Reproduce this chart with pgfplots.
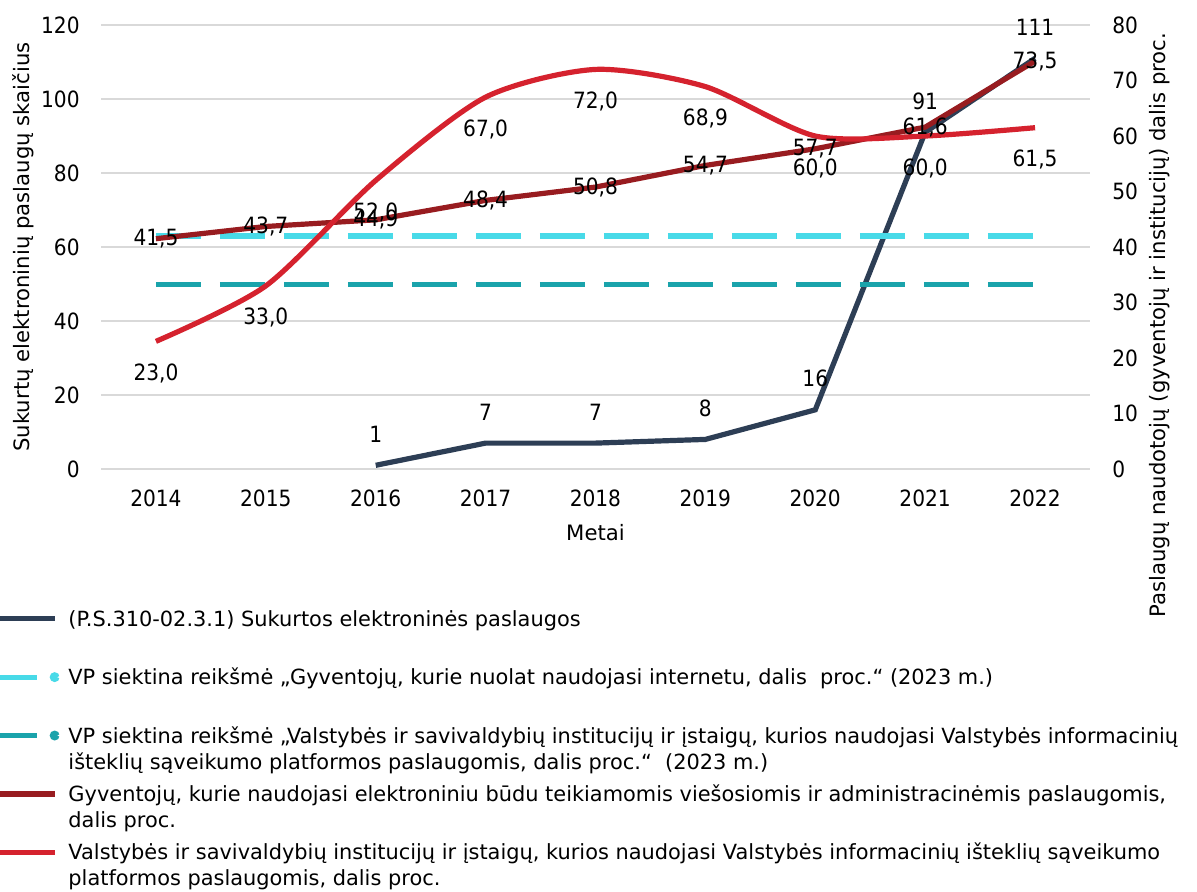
\documentclass[border=0pt]{standalone}
\usepackage{pgfplots}
\pgfplotsset{compat=1.18}
\usepackage{fontspec}
\setmainfont{DejaVu Sans Condensed}
\newfontfamily\widefont{DejaVu Sans}

\definecolor{navyline}{RGB}{45,62,85}
\definecolor{cyanline}{RGB}{72,218,232}
\definecolor{tealline}{RGB}{26,163,171}
\definecolor{darkredline}{RGB}{152,28,32}
\definecolor{redline}{RGB}{213,34,46}
\definecolor{gridgray}{RGB}{217,217,217}

\newcommand{\tickfont}{\fontsize{11.2}{13}\selectfont}
\newcommand{\labfont}{\widefont\fontsize{10.6}{13}\selectfont}
\newcommand{\legfont}{\widefont\fontsize{10.45}{13}\selectfont}
\newcommand{\legtext}[1]{\parbox[t]{600pt}{\raggedright\strut #1\strut}}

\pgfplotsset{
  base/.style={
    scale only axis, width=494.5pt, height=222pt,
    xmin=2013.5, xmax=2022.5,
    xtick={2014,...,2022},
    xticklabels={2014,2015,2016,2017,2018,2019,2020,2021,2022},
    axis line style={draw=none}, tick style={draw=none}, major tick length=0pt,
    tick label style={font=\tickfont},
    label style={font=\labfont},
    /pgf/number format/assume math mode=true,
    clip=false,
  },
  dashimg/.style={legend image code/.code={
    \draw[##1] (0pt,0pt) -- (18.5pt,0pt);
    \fill[##1] (27.5pt,0pt) circle (1.1pt);}},
}

\begin{document}
\begin{tikzpicture}
% left axis: number of services
\begin{axis}[base,
  ymin=0, ymax=120, ytick={0,20,...,120},
  ymajorgrids, grid style={gridgray, line width=0.8pt},
  xticklabel style={anchor=center, yshift=-14.5pt},
  yticklabel style={anchor=east, inner sep=0pt, xshift=-10.5pt},
  xlabel={Metai},
  xlabel style={at={([yshift=-32pt]axis description cs:0.5,0)}, anchor=center},
  ylabel={Sukurtų elektroninių paslaugų skaičius},
  ylabel style={at={([xshift=-39pt]axis description cs:0,0.5)}, anchor=center},
]
\addplot[color=navyline, line width=2.6pt, nodes near coords, point meta=explicit symbolic,
  nodes near coords style={anchor=center, yshift=15.5pt, font=\tickfont, text=black}]
  coordinates {(2016,1)[1] (2017,7)[7] (2018,7)[7] (2019,8)[8] (2020,16)[16] (2021,91)[91] (2022,111)[111]};
\end{axis}
% right axis: shares in percent
\begin{axis}[base,
  hide x axis, axis y line*=right,
  ymin=0, ymax=80, ytick={0,10,...,80},
  yticklabel style={anchor=west, inner sep=0pt, xshift=11pt},
  ylabel={Paslaugų naudotojų (gyventojų ir institucijų) dalis proc.},
  ylabel style={at={([xshift=35pt]axis description cs:1,0.324)}, anchor=center},
  legend cell align=left,
  legend image code/.code={\draw[#1] (0pt,0pt) -- (27.5pt,0pt);},
  legend style={draw=none, fill=none, inner sep=0pt, outer sep=0pt,
    at={(axis description cs:-0.1051,-0.3133)}, anchor=north west,
    font=\legfont, row sep=18.6pt, column sep=4.5pt, nodes={inner sep=0pt}},
]
\addlegendimage{color=navyline, line width=2.6pt}
\addlegendentry{\legtext{(P.S.310-02.3.1) Sukurtos elektroninės paslaugos\\\strut}}
\addplot[color=cyanline, line width=2.6pt, dash pattern=on 22.5pt off 9.5pt, dashimg]
  coordinates {(2014,42) (2022,42)};
\addlegendentry{\legtext{VP siektina reikšmė „Gyventojų, kurie nuolat naudojasi internetu, dalis \ proc.“ (2023 m.)\\\strut}}
\addplot[color=tealline, line width=2.6pt, dash pattern=on 22.5pt off 9.5pt, dashimg]
  coordinates {(2014,33.3) (2022,33.3)};
\addlegendentry{\legtext{VP siektina reikšmė „Valstybės ir savivaldybių institucijų ir įstaigų, kurios naudojasi Valstybės informacinių\\išteklių sąveikumo platformos paslaugomis, dalis proc.“ \ (2023 m.)}}
\addplot[color=darkredline, line width=2.6pt, nodes near coords, point meta=explicit symbolic,
  nodes near coords style={anchor=center, font=\tickfont, text=black}]
  coordinates {(2014,41.5)[41,5] (2015,43.7)[43,7] (2016,44.9)[44,9] (2017,48.4)[48,4]
    (2018,50.8)[50,8] (2019,54.7)[54,7] (2020,57.7)[57,7] (2021,61.6)[61,6] (2022,73.5)[73,5]};
\addlegendentry{\legtext{Gyventojų, kurie naudojasi elektroniniu būdu teikiamomis viešosiomis ir administracinėmis paslaugomis,\\dalis proc.}}
\addplot[color=redline, line width=2.6pt, smooth, tension=0.45, nodes near coords, point meta=explicit symbolic,
  nodes near coords style={anchor=center, yshift=-16pt, font=\tickfont, text=black}]
  coordinates {(2014,23.0)[23,0] (2015,33.0)[33,0] (2016,52.0)[52,0] (2017,67.0)[67,0]
    (2018,72.0)[72,0] (2019,68.9)[68,9] (2020,60.0)[60,0] (2021,60.0)[60,0] (2022,61.5)[61,5]};
\addlegendentry{\legtext{Valstybės ir savivaldybių institucijų ir įstaigų, kurios naudojasi Valstybės informacinių išteklių sąveikumo\\platformos paslaugomis, dalis proc.}}
\end{axis}
\pgfresetboundingbox
\path[use as bounding box] (-50.5pt,-211pt) rectangle (548pt,234.5pt);
\end{tikzpicture}
\end{document}
